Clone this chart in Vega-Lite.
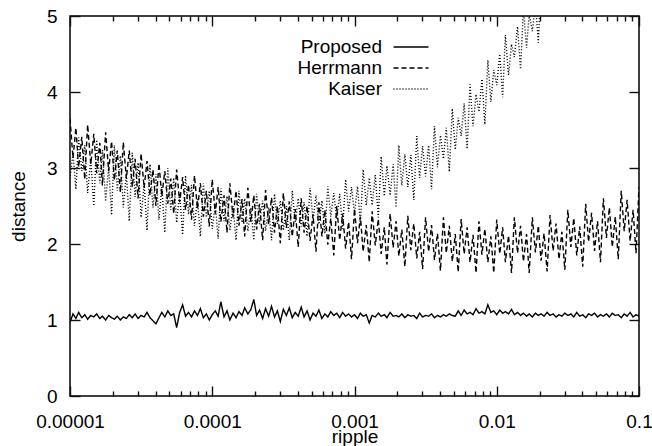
{
"$schema":"https://vega.github.io/schema/vega-lite/v6.json",
"width":569,"height":380,
"autosize":{"type":"none"},
"padding":{"left":70,"top":16,"right":13,"bottom":50},
"background":"white",
"config":{"font":"Liberation Sans","view":{"stroke":"black","strokeWidth":1.5},
"axis":{"tickWidth":1.4,"labelColor":"black","labelFontSize":19,"titleFontSize":19,"titleFontWeight":"normal","titleColor":"black","grid":false,"labelFont":"Liberation Sans","titleFont":"Liberation Sans"}},
"data":{"values":[
{"ripple":1e-5,"Proposed":0.97,"Herrmann":3.65,"Kaiser":2.86},
{"ripple":1.05e-5,"Proposed":1.08,"Herrmann":3.13,"Kaiser":3.2},
{"ripple":1.1e-5,"Proposed":1.02,"Herrmann":3.53,"Kaiser":2.72},
{"ripple":1.15e-5,"Proposed":1.1,"Herrmann":3.01,"Kaiser":3.4},
{"ripple":1.21e-5,"Proposed":1.03,"Herrmann":3.41,"Kaiser":2.96},
{"ripple":1.27e-5,"Proposed":1.07,"Herrmann":2.85,"Kaiser":3.3},
{"ripple":1.33e-5,"Proposed":1.01,"Herrmann":3.57,"Kaiser":2.67},
{"ripple":1.4e-5,"Proposed":1.06,"Herrmann":3.05,"Kaiser":3.11},
{"ripple":1.47e-5,"Proposed":1.04,"Herrmann":3.45,"Kaiser":2.5},
{"ripple":1.54e-5,"Proposed":1.08,"Herrmann":2.93,"Kaiser":3.37},
{"ripple":1.62e-5,"Proposed":1.02,"Herrmann":3.33,"Kaiser":2.8},
{"ripple":1.69e-5,"Proposed":1.05,"Herrmann":2.77,"Kaiser":3.24},
{"ripple":1.78e-5,"Proposed":1.0,"Herrmann":3.47,"Kaiser":2.56},
{"ripple":1.87e-5,"Proposed":1.06,"Herrmann":2.96,"Kaiser":3.02},
{"ripple":1.96e-5,"Proposed":1.03,"Herrmann":3.35,"Kaiser":2.38},
{"ripple":2.05e-5,"Proposed":1.01,"Herrmann":2.84,"Kaiser":3.3},
{"ripple":2.15e-5,"Proposed":1.05,"Herrmann":3.23,"Kaiser":2.7},
{"ripple":2.26e-5,"Proposed":1.0,"Herrmann":2.68,"Kaiser":3.16},
{"ripple":2.37e-5,"Proposed":1.04,"Herrmann":3.34,"Kaiser":2.48},
{"ripple":2.49e-5,"Proposed":1.02,"Herrmann":2.86,"Kaiser":2.93},
{"ripple":2.61e-5,"Proposed":1.07,"Herrmann":3.23,"Kaiser":2.3},
{"ripple":2.74e-5,"Proposed":1.03,"Herrmann":2.75,"Kaiser":3.2},
{"ripple":2.87e-5,"Proposed":1.08,"Herrmann":3.12,"Kaiser":2.62},
{"ripple":3.01e-5,"Proposed":1.02,"Herrmann":2.6,"Kaiser":3.07},
{"ripple":3.16e-5,"Proposed":1.06,"Herrmann":3.19,"Kaiser":2.35},
{"ripple":3.32e-5,"Proposed":1.04,"Herrmann":2.74,"Kaiser":2.79},
{"ripple":3.48e-5,"Proposed":1.1,"Herrmann":3.09,"Kaiser":2.18},
{"ripple":3.65e-5,"Proposed":1.03,"Herrmann":2.64,"Kaiser":3.05},
{"ripple":3.83e-5,"Proposed":0.99,"Herrmann":2.98,"Kaiser":2.48},
{"ripple":4.02e-5,"Proposed":0.95,"Herrmann":2.5,"Kaiser":2.92},
{"ripple":4.22e-5,"Proposed":1.03,"Herrmann":3.06,"Kaiser":2.32},
{"ripple":4.42e-5,"Proposed":1.1,"Herrmann":2.63,"Kaiser":2.75},
{"ripple":4.64e-5,"Proposed":1.04,"Herrmann":2.96,"Kaiser":2.15},
{"ripple":4.87e-5,"Proposed":1.12,"Herrmann":2.53,"Kaiser":3.0},
{"ripple":5.11e-5,"Proposed":1.06,"Herrmann":2.86,"Kaiser":2.45},
{"ripple":5.36e-5,"Proposed":1.08,"Herrmann":2.4,"Kaiser":2.87},
{"ripple":5.62e-5,"Proposed":0.9,"Herrmann":2.98,"Kaiser":2.28},
{"ripple":5.9e-5,"Proposed":1.1,"Herrmann":2.55,"Kaiser":2.67},
{"ripple":6.19e-5,"Proposed":1.2,"Herrmann":2.88,"Kaiser":2.12},
{"ripple":6.49e-5,"Proposed":1.05,"Herrmann":2.45,"Kaiser":2.9},
{"ripple":6.81e-5,"Proposed":1.1,"Herrmann":2.78,"Kaiser":2.39},
{"ripple":7.15e-5,"Proposed":1.04,"Herrmann":2.32,"Kaiser":2.78},
{"ripple":7.5e-5,"Proposed":1.12,"Herrmann":2.9,"Kaiser":2.24},
{"ripple":7.87e-5,"Proposed":1.06,"Herrmann":2.46,"Kaiser":2.59},
{"ripple":8.25e-5,"Proposed":1.15,"Herrmann":2.8,"Kaiser":2.1},
{"ripple":8.66e-5,"Proposed":1.03,"Herrmann":2.36,"Kaiser":2.8},
{"ripple":9.09e-5,"Proposed":1.08,"Herrmann":2.7,"Kaiser":2.35},
{"ripple":9.53e-5,"Proposed":1.0,"Herrmann":2.23,"Kaiser":2.7},
{"ripple":1e-4,"Proposed":1.07,"Herrmann":2.85,"Kaiser":2.2},
{"ripple":1.05e-4,"Proposed":1.12,"Herrmann":2.4,"Kaiser":2.53},
{"ripple":1.1e-4,"Proposed":1.05,"Herrmann":2.75,"Kaiser":2.07},
{"ripple":1.15e-4,"Proposed":1.24,"Herrmann":2.29,"Kaiser":2.73},
{"ripple":1.21e-4,"Proposed":1.04,"Herrmann":2.64,"Kaiser":2.3},
{"ripple":1.27e-4,"Proposed":1.12,"Herrmann":2.15,"Kaiser":2.63},
{"ripple":1.33e-4,"Proposed":1.0,"Herrmann":2.8,"Kaiser":2.18},
{"ripple":1.4e-4,"Proposed":1.09,"Herrmann":2.35,"Kaiser":2.5},
{"ripple":1.47e-4,"Proposed":1.03,"Herrmann":2.7,"Kaiser":2.05},
{"ripple":1.54e-4,"Proposed":1.11,"Herrmann":2.24,"Kaiser":2.7},
{"ripple":1.62e-4,"Proposed":1.06,"Herrmann":2.59,"Kaiser":2.28},
{"ripple":1.69e-4,"Proposed":1.16,"Herrmann":2.1,"Kaiser":2.6},
{"ripple":1.78e-4,"Proposed":1.08,"Herrmann":2.74,"Kaiser":2.17},
{"ripple":1.87e-4,"Proposed":1.14,"Herrmann":2.29,"Kaiser":2.48},
{"ripple":1.96e-4,"Proposed":1.27,"Herrmann":2.64,"Kaiser":2.05},
{"ripple":2.05e-4,"Proposed":1.06,"Herrmann":2.19,"Kaiser":2.66},
{"ripple":2.15e-4,"Proposed":1.13,"Herrmann":2.53,"Kaiser":2.26},
{"ripple":2.26e-4,"Proposed":1.02,"Herrmann":2.05,"Kaiser":2.57},
{"ripple":2.37e-4,"Proposed":1.15,"Herrmann":2.71,"Kaiser":2.17},
{"ripple":2.49e-4,"Proposed":1.05,"Herrmann":2.26,"Kaiser":2.48},
{"ripple":2.61e-4,"Proposed":1.18,"Herrmann":2.61,"Kaiser":2.05},
{"ripple":2.74e-4,"Proposed":1.04,"Herrmann":2.15,"Kaiser":2.66},
{"ripple":2.87e-4,"Proposed":1.12,"Herrmann":2.5,"Kaiser":2.26},
{"ripple":3.01e-4,"Proposed":0.98,"Herrmann":2.01,"Kaiser":2.57},
{"ripple":3.16e-4,"Proposed":1.14,"Herrmann":2.67,"Kaiser":2.18},
{"ripple":3.32e-4,"Proposed":1.06,"Herrmann":2.21,"Kaiser":2.5},
{"ripple":3.48e-4,"Proposed":1.16,"Herrmann":2.56,"Kaiser":2.05},
{"ripple":3.65e-4,"Proposed":1.03,"Herrmann":2.1,"Kaiser":2.7},
{"ripple":3.83e-4,"Proposed":1.1,"Herrmann":2.46,"Kaiser":2.28},
{"ripple":4.02e-4,"Proposed":1.05,"Herrmann":1.96,"Kaiser":2.6},
{"ripple":4.22e-4,"Proposed":1.17,"Herrmann":2.6,"Kaiser":2.23},
{"ripple":4.42e-4,"Proposed":1.04,"Herrmann":2.15,"Kaiser":2.55},
{"ripple":4.64e-4,"Proposed":1.12,"Herrmann":2.5,"Kaiser":2.1},
{"ripple":4.87e-4,"Proposed":1.0,"Herrmann":2.04,"Kaiser":2.74},
{"ripple":5.11e-4,"Proposed":1.09,"Herrmann":2.39,"Kaiser":2.32},
{"ripple":5.36e-4,"Proposed":1.05,"Herrmann":1.9,"Kaiser":2.64},
{"ripple":5.62e-4,"Proposed":1.13,"Herrmann":2.55,"Kaiser":2.26},
{"ripple":5.9e-4,"Proposed":1.02,"Herrmann":2.1,"Kaiser":2.57},
{"ripple":6.19e-4,"Proposed":1.08,"Herrmann":2.45,"Kaiser":2.14},
{"ripple":6.49e-4,"Proposed":1.04,"Herrmann":1.99,"Kaiser":2.76},
{"ripple":6.81e-4,"Proposed":1.11,"Herrmann":2.34,"Kaiser":2.36},
{"ripple":7.15e-4,"Proposed":1.06,"Herrmann":1.85,"Kaiser":2.67},
{"ripple":7.5e-4,"Proposed":1.09,"Herrmann":2.5,"Kaiser":2.33},
{"ripple":7.87e-4,"Proposed":1.03,"Herrmann":2.05,"Kaiser":2.66},
{"ripple":8.25e-4,"Proposed":1.1,"Herrmann":2.4,"Kaiser":2.2},
{"ripple":8.66e-4,"Proposed":1.05,"Herrmann":1.94,"Kaiser":2.85},
{"ripple":9.09e-4,"Proposed":1.08,"Herrmann":2.29,"Kaiser":2.43},
{"ripple":9.53e-4,"Proposed":1.04,"Herrmann":1.8,"Kaiser":2.75},
{"ripple":1e-3,"Proposed":1.07,"Herrmann":2.46,"Kaiser":2.4},
{"ripple":1.05e-3,"Proposed":1.02,"Herrmann":2.01,"Kaiser":2.76},
{"ripple":1.1e-3,"Proposed":1.09,"Herrmann":2.36,"Kaiser":2.26},
{"ripple":1.15e-3,"Proposed":1.05,"Herrmann":1.9,"Kaiser":2.98},
{"ripple":1.21e-3,"Proposed":1.07,"Herrmann":2.25,"Kaiser":2.51},
{"ripple":1.27e-3,"Proposed":0.96,"Herrmann":1.76,"Kaiser":2.87},
{"ripple":1.33e-3,"Proposed":1.06,"Herrmann":2.43,"Kaiser":2.51},
{"ripple":1.4e-3,"Proposed":1.04,"Herrmann":1.98,"Kaiser":2.91},
{"ripple":1.47e-3,"Proposed":1.09,"Herrmann":2.33,"Kaiser":2.35},
{"ripple":1.54e-3,"Proposed":1.05,"Herrmann":1.87,"Kaiser":3.15},
{"ripple":1.62e-3,"Proposed":1.07,"Herrmann":2.22,"Kaiser":2.63},
{"ripple":1.69e-3,"Proposed":1.03,"Herrmann":1.73,"Kaiser":3.03},
{"ripple":1.78e-3,"Proposed":1.1,"Herrmann":2.4,"Kaiser":2.64},
{"ripple":1.87e-3,"Proposed":1.05,"Herrmann":1.95,"Kaiser":3.05},
{"ripple":1.96e-3,"Proposed":1.06,"Herrmann":2.3,"Kaiser":2.48},
{"ripple":2.05e-3,"Proposed":1.04,"Herrmann":1.84,"Kaiser":3.3},
{"ripple":2.15e-3,"Proposed":1.08,"Herrmann":2.19,"Kaiser":2.77},
{"ripple":2.26e-3,"Proposed":1.03,"Herrmann":1.7,"Kaiser":3.18},
{"ripple":2.37e-3,"Proposed":1.07,"Herrmann":2.37,"Kaiser":2.75},
{"ripple":2.49e-3,"Proposed":1.05,"Herrmann":1.92,"Kaiser":3.17},
{"ripple":2.61e-3,"Proposed":1.06,"Herrmann":2.27,"Kaiser":2.58},
{"ripple":2.74e-3,"Proposed":1.02,"Herrmann":1.81,"Kaiser":3.42},
{"ripple":2.87e-3,"Proposed":1.09,"Herrmann":2.16,"Kaiser":2.87},
{"ripple":3.01e-3,"Proposed":1.04,"Herrmann":1.67,"Kaiser":3.29},
{"ripple":3.16e-3,"Proposed":1.06,"Herrmann":2.35,"Kaiser":2.89},
{"ripple":3.32e-3,"Proposed":1.05,"Herrmann":1.9,"Kaiser":3.3},
{"ripple":3.48e-3,"Proposed":1.08,"Herrmann":2.25,"Kaiser":2.72},
{"ripple":3.65e-3,"Proposed":1.03,"Herrmann":1.79,"Kaiser":3.55},
{"ripple":3.83e-3,"Proposed":1.06,"Herrmann":2.14,"Kaiser":3.01},
{"ripple":4.02e-3,"Proposed":1.04,"Herrmann":1.65,"Kaiser":3.43},
{"ripple":4.22e-3,"Proposed":1.07,"Herrmann":2.35,"Kaiser":3.12},
{"ripple":4.42e-3,"Proposed":1.05,"Herrmann":1.88,"Kaiser":3.53},
{"ripple":4.64e-3,"Proposed":1.08,"Herrmann":2.24,"Kaiser":2.95},
{"ripple":4.87e-3,"Proposed":1.06,"Herrmann":1.77,"Kaiser":3.78},
{"ripple":5.11e-3,"Proposed":1.05,"Herrmann":2.13,"Kaiser":3.24},
{"ripple":5.36e-3,"Proposed":1.12,"Herrmann":1.63,"Kaiser":3.66},
{"ripple":5.62e-3,"Proposed":1.06,"Herrmann":2.33,"Kaiser":3.42},
{"ripple":5.9e-3,"Proposed":1.13,"Herrmann":1.87,"Kaiser":3.85},
{"ripple":6.19e-3,"Proposed":1.08,"Herrmann":2.22,"Kaiser":3.25},
{"ripple":6.49e-3,"Proposed":1.1,"Herrmann":1.76,"Kaiser":4.1},
{"ripple":6.81e-3,"Proposed":1.07,"Herrmann":2.12,"Kaiser":3.55},
{"ripple":7.15e-3,"Proposed":1.15,"Herrmann":1.62,"Kaiser":3.97},
{"ripple":7.5e-3,"Proposed":1.09,"Herrmann":2.3,"Kaiser":3.74},
{"ripple":7.87e-3,"Proposed":1.11,"Herrmann":1.86,"Kaiser":4.17},
{"ripple":8.25e-3,"Proposed":1.08,"Herrmann":2.2,"Kaiser":3.57},
{"ripple":8.66e-3,"Proposed":1.2,"Herrmann":1.76,"Kaiser":4.42},
{"ripple":9.09e-3,"Proposed":1.1,"Herrmann":2.1,"Kaiser":3.87},
{"ripple":9.53e-3,"Proposed":1.12,"Herrmann":1.62,"Kaiser":4.29},
{"ripple":1e-2,"Proposed":1.07,"Herrmann":2.32,"Kaiser":4.09},
{"ripple":1.05e-2,"Proposed":1.13,"Herrmann":1.87,"Kaiser":4.5},
{"ripple":1.1e-2,"Proposed":1.09,"Herrmann":2.22,"Kaiser":3.93},
{"ripple":1.15e-2,"Proposed":1.11,"Herrmann":1.76,"Kaiser":4.75},
{"ripple":1.21e-2,"Proposed":1.08,"Herrmann":2.11,"Kaiser":4.22},
{"ripple":1.27e-2,"Proposed":1.14,"Herrmann":1.62,"Kaiser":4.63},
{"ripple":1.33e-2,"Proposed":1.07,"Herrmann":2.35,"Kaiser":4.46},
{"ripple":1.4e-2,"Proposed":1.1,"Herrmann":1.88,"Kaiser":4.86},
{"ripple":1.47e-2,"Proposed":1.06,"Herrmann":2.24,"Kaiser":4.3},
{"ripple":1.54e-2,"Proposed":1.09,"Herrmann":1.77,"Kaiser":5.1},
{"ripple":1.62e-2,"Proposed":1.05,"Herrmann":2.13,"Kaiser":4.58},
{"ripple":1.69e-2,"Proposed":1.08,"Herrmann":1.62,"Kaiser":5.02},
{"ripple":1.78e-2,"Proposed":1.04,"Herrmann":2.35,"Kaiser":4.8},
{"ripple":1.87e-2,"Proposed":1.09,"Herrmann":1.89,"Kaiser":5.18},
{"ripple":1.96e-2,"Proposed":1.06,"Herrmann":2.24,"Kaiser":4.65},
{"ripple":2.05e-2,"Proposed":1.08,"Herrmann":1.78,"Kaiser":5.4},
{"ripple":2.15e-2,"Proposed":1.05,"Herrmann":2.14},
{"ripple":2.26e-2,"Proposed":1.1,"Herrmann":1.64},
{"ripple":2.37e-2,"Proposed":1.06,"Herrmann":2.38},
{"ripple":2.49e-2,"Proposed":1.08,"Herrmann":1.91},
{"ripple":2.61e-2,"Proposed":1.04,"Herrmann":2.27},
{"ripple":2.74e-2,"Proposed":1.07,"Herrmann":1.8},
{"ripple":2.87e-2,"Proposed":1.05,"Herrmann":2.16},
{"ripple":3.01e-2,"Proposed":1.09,"Herrmann":1.66},
{"ripple":3.16e-2,"Proposed":1.06,"Herrmann":2.45},
{"ripple":3.32e-2,"Proposed":1.08,"Herrmann":1.96},
{"ripple":3.48e-2,"Proposed":1.04,"Herrmann":2.34},
{"ripple":3.65e-2,"Proposed":1.1,"Herrmann":1.85},
{"ripple":3.83e-2,"Proposed":1.05,"Herrmann":2.23},
{"ripple":4.02e-2,"Proposed":1.07,"Herrmann":1.7},
{"ripple":4.22e-2,"Proposed":1.03,"Herrmann":2.53},
{"ripple":4.42e-2,"Proposed":1.08,"Herrmann":2.03},
{"ripple":4.64e-2,"Proposed":1.06,"Herrmann":2.41},
{"ripple":4.87e-2,"Proposed":1.09,"Herrmann":1.91},
{"ripple":5.11e-2,"Proposed":1.04,"Herrmann":2.3},
{"ripple":5.36e-2,"Proposed":1.07,"Herrmann":1.76},
{"ripple":5.62e-2,"Proposed":1.05,"Herrmann":2.6},
{"ripple":5.9e-2,"Proposed":1.08,"Herrmann":2.08},
{"ripple":6.19e-2,"Proposed":1.04,"Herrmann":2.48},
{"ripple":6.49e-2,"Proposed":1.09,"Herrmann":1.96},
{"ripple":6.81e-2,"Proposed":1.06,"Herrmann":2.36},
{"ripple":7.15e-2,"Proposed":1.07,"Herrmann":1.8},
{"ripple":7.5e-2,"Proposed":1.03,"Herrmann":2.7},
{"ripple":7.87e-2,"Proposed":1.08,"Herrmann":2.17},
{"ripple":8.25e-2,"Proposed":1.05,"Herrmann":2.58},
{"ripple":8.66e-2,"Proposed":1.1,"Herrmann":2.04},
{"ripple":9.09e-2,"Proposed":1.04,"Herrmann":2.45},
{"ripple":9.53e-2,"Proposed":1.07,"Herrmann":1.88},
{"ripple":0.1,"Proposed":1.05,"Herrmann":2.75}
]},
"transform":[{"fold":["Proposed","Herrmann","Kaiser"],"as":["method","distance"]},{"filter":"isValid(datum.distance)"}],
"layer":[
{"mark":{"type":"line","clip":true,"color":"black","strokeWidth":1.4},
"encoding":{
"x":{"field":"ripple","type":"quantitative","scale":{"type":"log","domain":[0.00001,0.1],"nice":false},
"axis":{"orient":"bottom","title":"ripple","values":[1e-5,1e-4,1e-3,1e-2,0.1],"format":".5~f","ticks":true,"tickSize":8,"tickColor":"transparent","domain":false,
"labelPadding":8,"labelFlush":false,"labelOverlap":false,"titlePadding":-4}},
"y":{"field":"distance","type":"quantitative","scale":{"domain":[0,5],"nice":false},
"axis":{"orient":"left","values":[0,1,2,3,4,5],"ticks":true,"tickSize":8,"tickColor":"transparent","domain":false,"labelPadding":5,"title":"distance","titlePadding":18}},
"strokeDash":{"field":"method","type":"nominal","scale":{"domain":["Proposed","Herrmann","Kaiser"],"range":[[1,0],[5,3],[1,2]]},
"legend":{"orient":"none","legendX":330,"legendY":20,"title":null,"symbolType":"M-1.75,0H1.75","symbolSize":400,"symbolStrokeWidth":1.3,"symbolStrokeColor":"#000000","labelAlign":"right","labelOffset":-40,"labelFontSize":19,"labelColor":"black","labelFont":"Liberation Sans","rowPadding":0,"padding":0}}
}},
{"mark":{"type":"line","opacity":0},
"encoding":{
"x":{"field":"ripple","type":"quantitative","scale":{"type":"log","domain":[0.00001,0.1],"nice":false},
"axis":{"orient":"top","offset":-380,"title":null,"labels":false,"domain":false,"tickColor":"#111111","values":[1e-5,1e-4,1e-3,1e-2,0.1],"tickSize":10}},
"y":{"field":"distance","type":"quantitative","scale":{"domain":[0,5],"nice":false},
"axis":{"orient":"right","offset":-569,"title":null,"labels":false,"domain":false,"tickColor":"#111111","values":[0,1,2,3,4,5],"tickSize":10}}
}},
{"mark":{"type":"line","opacity":0},
"encoding":{
"x":{"field":"ripple","type":"quantitative","scale":{"type":"log","domain":[0.00001,0.1],"nice":false},
"axis":{"orient":"bottom","offset":-380,"title":null,"labels":false,"domain":false,"tickColor":"#111111","values":[1e-5,1e-4,1e-3,1e-2,0.1],"tickSize":10}},
"y":{"field":"distance","type":"quantitative","scale":{"domain":[0,5],"nice":false},
"axis":{"orient":"left","offset":-569,"title":null,"labels":false,"domain":false,"tickColor":"#111111","values":[0,1,2,3,4,5],"tickSize":10}}
}},
{"mark":{"type":"line","opacity":0},
"encoding":{
"x":{"field":"ripple","type":"quantitative","scale":{"type":"log","domain":[0.00001,0.1],"nice":false},
"axis":{"orient":"top","offset":-380,"title":null,"labels":false,"domain":false,"tickColor":"#111111","values":[2e-5,3e-5,4e-5,5e-5,6e-5,7e-5,8e-5,9e-5,2e-4,3e-4,4e-4,5e-4,6e-4,7e-4,8e-4,9e-4,2e-3,3e-3,4e-3,5e-3,6e-3,7e-3,8e-3,9e-3,2e-2,3e-2,4e-2,5e-2,6e-2,7e-2,8e-2,9e-2],"tickSize":5}},
"y":{"field":"distance","type":"quantitative","scale":{"domain":[0,5],"nice":false},"axis":null}
}},
{"mark":{"type":"line","opacity":0},
"encoding":{
"x":{"field":"ripple","type":"quantitative","scale":{"type":"log","domain":[0.00001,0.1],"nice":false},
"axis":{"orient":"bottom","offset":-380,"title":null,"labels":false,"domain":false,"tickColor":"#111111","values":[2e-5,3e-5,4e-5,5e-5,6e-5,7e-5,8e-5,9e-5,2e-4,3e-4,4e-4,5e-4,6e-4,7e-4,8e-4,9e-4,2e-3,3e-3,4e-3,5e-3,6e-3,7e-3,8e-3,9e-3,2e-2,3e-2,4e-2,5e-2,6e-2,7e-2,8e-2,9e-2],"tickSize":5}},
"y":{"field":"distance","type":"quantitative","scale":{"domain":[0,5],"nice":false},"axis":null}
}}
],
"resolve":{"axis":{"x":"independent","y":"independent"}}
}
